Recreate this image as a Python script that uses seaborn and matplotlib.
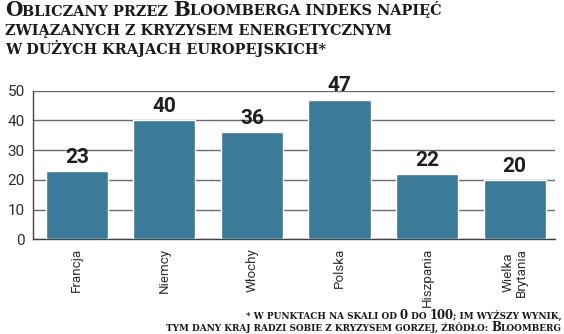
import matplotlib
matplotlib.use("Agg")
import matplotlib.pyplot as plt
import seaborn as sns
import pandas as pd

countries = ["Francja", "Niemcy", "Włochy", "Polska", "Hiszpania", "Wielka\nBrytania"]
values = [23, 40, 36, 47, 22, 20]
yticks = [0, 10, 20, 30, 40, 50]
title_lines = ["Obliczany przez Bloomberga indeks napięć",
               "związanych z kryzysem energetycznym",
               "w dużych krajach europejskich*"]
note_lines = ["* w punktach na skali od 0 do 100; im wyższy wynik,",
              "tym dany kraj radzi sobie z kryzysem gorzej, źródło: Bloomberg"]

BAR = "#3c7a99"
W, H = 564, 334

sns.set_theme(style="white")
plt.rcParams['font.family'] = ['Roboto', 'DejaVu Sans']

fig = plt.figure(figsize=(W / 100, H / 100), dpi=100)
ax = fig.add_axes([33 / W, (H - 239.3) / H, 522 / W, 148.6 / H])

df = pd.DataFrame({"kraj": countries, "wartosc": values})
sns.barplot(data=df, x="kraj", y="wartosc", color=BAR, saturation=1, width=0.71, ax=ax, zorder=3)

ax.set_ylim(0, 50)
ax.set_xlim(-0.5, 5.46)
ax.set_yticks(yticks)
ax.set_yticklabels([str(v) for v in yticks])
ax.yaxis.grid(True, color="#6b6b6b", linewidth=1.0, zorder=0)
ax.set_axisbelow(True)
ax.set_xlabel("")
ax.set_ylabel("")
for s in ["top", "right"]:
    ax.spines[s].set_visible(False)
for s in ["left", "bottom"]:
    ax.spines[s].set_color("#444444")
    ax.spines[s].set_linewidth(1.0)
ax.tick_params(axis="y", length=0, pad=6, labelsize=11, labelcolor="#2e2e2e")
ax.tick_params(axis="x", length=0, pad=6, labelsize=9.6, labelcolor="#2e2e2e", rotation=90)
for lbl in ax.get_xticklabels():
    lbl.set_linespacing(0.95)

for i, v in enumerate(values):
    ax.annotate(str(v), (i, v), xytext=(0, 3), textcoords="offset points",
                ha="center", va="bottom", fontsize=15, fontweight="bold",
                color="#1e1e1e", family=["Roboto", "DejaVu Sans"])

renderer = fig.canvas.get_renderer()


def width_of(s, size, fam, weight):
    t = fig.text(0, 0, s + "|", fontsize=size, family=fam, fontweight=weight)
    w1 = t.get_window_extent(renderer).width
    t.remove()
    t = fig.text(0, 0, "|", fontsize=size, family=fam, fontweight=weight)
    w2 = t.get_window_extent(renderer).width
    t.remove()
    return w1 - w2


def chunks(s):
    out = []
    for ch in s:
        big = ch.isupper() or ch.isdigit()
        if out and out[-1][1] == big:
            out[-1][0] += ch
        else:
            out.append([ch, big])
    return out


def line_width(s, big, small, fam, weight):
    return sum(width_of(p.upper(), big if b else small, fam, weight) for p, b in chunks(s))


def smallcaps(x, y, s, big, small, fam, weight, color, align="left"):
    parts = chunks(s)
    widths = [width_of(p.upper(), big if b else small, fam, weight) for p, b in parts]
    total = sum(widths)
    cur = x - total if align == "right" else x
    for (p, b), w in zip(parts, widths):
        fig.text(cur / W, (H - y) / H, p.upper(), fontsize=big if b else small,
                 family=fam, fontweight=weight, color=color, ha="left", va="baseline")
        cur += w


serif = ["DejaVu Serif", "Liberation Serif"]
ratio = 11.0 / 8.0

# title: fit first line to reference width
w0 = line_width(title_lines[0], 10 * ratio, 10, serif, "bold")
small_t = 10 * 440 / w0
for i, line in enumerate(title_lines):
    smallcaps(5, [15.5, 35, 54][i], line, small_t * ratio, small_t, serif, "bold", "#1a1a1a")

w1 = line_width(note_lines[1], 10 * 1.3, 10, serif, "bold")
small_n = 10 * 397 / w1
for i, line in enumerate(note_lines):
    smallcaps(562, [319, 331][i], line, small_n * 1.3, small_n, serif, "bold", "#1a1a1a", align="right")

fig.savefig("out.png", dpi=100)
